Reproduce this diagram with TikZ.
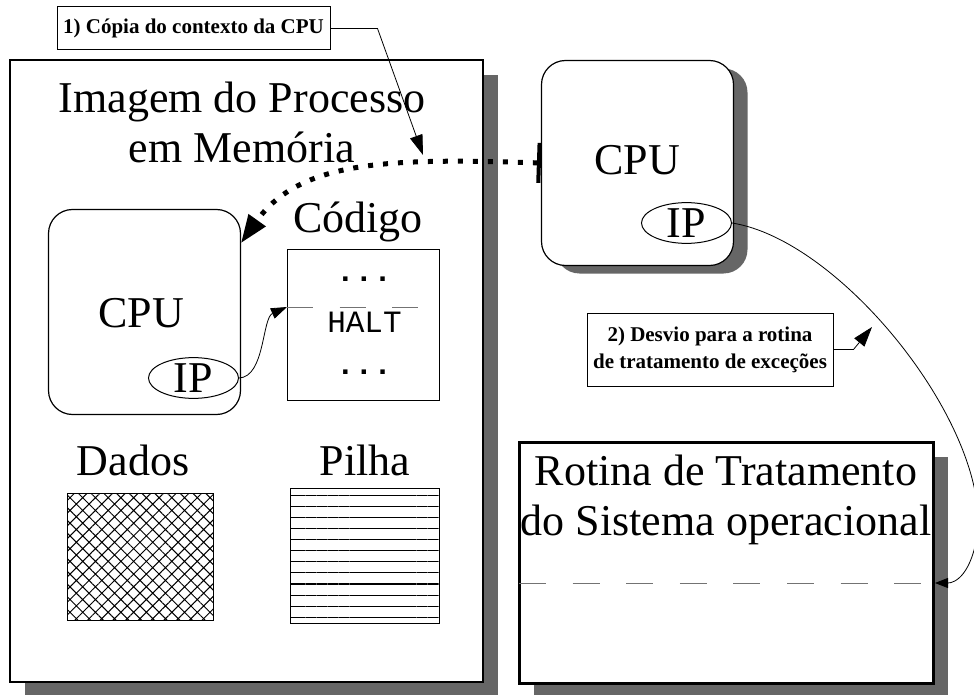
\documentclass[tikz,border=0pt]{standalone}
\usepackage{fontspec}
\setmainfont{Liberation Serif}
\setmonofont{Liberation Mono}
\usetikzlibrary{arrows.meta,shadows,patterns.meta,shapes.geometric}
\newcommand\bigtxt{\fontsize{44}{50}\selectfont}
\newcommand\notetxt{\fontsize{21}{27}\selectfont\bfseries}
\newcommand\codetxt{\fontsize{31}{36}\selectfont\ttfamily}

\begin{document}
\begin{tikzpicture}
		[x=1pt,y=-1pt,
		box/.style={shape=rectangle,draw,fill=white,line width=1.2pt,inner sep=0pt},
		shade box/.style={box,drop shadow={shadow xshift=15pt,shadow yshift=-15pt,fill=black!60,opacity=1}},
		cpu box/.style={box,rounded corners=24pt,minimum width=192pt,minimum height=205pt},
		ip node/.style={shape=ellipse,draw,fill=white,line width=1pt,minimum width=90pt,minimum height=40pt,inner sep=0pt,font=\bigtxt},
		big text/.style={font=\bigtxt,align=center,inner sep=0pt},
		note/.style={box,line width=1pt,font=\notetxt,align=center},
		pointer/.style={line width=.8pt,-{Triangle[length=20pt,width=13pt]}},
		cut line/.style={draw=black!55,line width=1pt,dash pattern=on 26pt off 26.5pt}
		]
		\useasboundingbox (0,0) rectangle (974,695);
		
		\node [shade box,minimum width=473pt,minimum height=622pt] (mem) at (246.5,371) {};
		\node [big text,anchor=base] (memtitle) at (242,163) {Imagem do Processo\\em Memória};
		
		\node [cpu box,drop shadow={shadow xshift=14pt,shadow yshift=-8pt,fill=black!60,opacity=1}] (cpuR) at (637.5,163) {};
		\node [big text,anchor=base] (cpuRtxt) at (637,175) {CPU};
		\node [ip node] (ipR) at (686.5,223) {IP};
		
		\node [cpu box] (cpuL) at (144.5,312) {};
		\node [big text,anchor=base] (cpuLtxt) at (141,327) {CPU};
		\node [ip node] (ipL) at (193.5,378) {IP};
		
		\node [big text,anchor=base] (codetitle) at (358,233) {Código};
		\node [box,line width=1pt,minimum width=152pt,minimum height=151pt] (code) at (363,324.5) {};
		\node [font=\codetxt\bfseries,anchor=base] (dotsA) at (364,281) {...};
		\node [font=\codetxt,anchor=base] (halt) at (364.5,332) {HALT};
		\node [font=\codetxt\bfseries,anchor=base] (dotsB) at (364,374) {...};
		\coordinate (h1) at (287,307);
		\coordinate (h2) at (439,307);
		
		\node [big text,anchor=base] (datatitle) at (133,475) {Dados};
		\node [box,line width=1pt,minimum width=146pt,minimum height=127pt,
		pattern={Hatch[angle=45,distance=9pt,line width=1pt]}] (data) at (140,556.5) {};
		\node [big text,anchor=base] (stacktitle) at (365,475) {Pilha};
		\node [box,line width=1pt,minimum width=149pt,minimum height=135pt,
		pattern={Lines[angle=0,distance=11.1pt,line width=1.1pt]}] (stack) at (364.5,555.5) {};
		
		\node [shade box,line width=3pt,minimum width=414pt,minimum height=241pt] (rout) at (726,562.5) {};
		\node [big text,anchor=base] (routtitle) at (726,535) {Rotina de Tratamento\\do Sistema operacional};
		\coordinate (r1) at (519,583);
		\coordinate (r2) at (922,583);
		\coordinate (rin) at (935,583);
		
		\node [note,minimum width=273pt,minimum height=43pt] (note1) at (193.5,28.5) {1) Cópia do contexto da CPU};
		\node [note,minimum width=246pt,minimum height=73pt] (note2) at (710,349.5) {2) Desvio para a rotina\\de tratamento de exceções};
		\coordinate (tip1) at (423,155);
		\coordinate (tip2) at (872,327);
		\coordinate (cpuin) at (241,243);
		
		\path [cut line] (h1) -- (h2);
		\path [cut line,dash pattern=on 27pt off 26.6pt] (r1) -- (r2);
		
		\draw [line width=5pt,dash pattern=on 5pt off 10pt,
		{Bar[width=40pt,line width=4pt]}-{Triangle[length=28pt,width=20pt]}]
		(cpuR.west) .. controls (390,158) and (300,160) .. (cpuin);
		\draw [pointer] (note1.east) -- ++(47,0) -- (tip1);
		\draw [pointer] (note2.east) -- ++(20,0) -- (tip2);
		\draw [line width=.8pt,-{Triangle[length=16pt,width=11pt]}]
		(ipL.east) .. controls (265,377) and (262,318) .. (h1);
		\draw [line width=.8pt,-{Triangle[length=13pt,width=10pt]}]
		(ipR.east) .. controls (840,240) and (985,420) .. (978,530)
		.. controls (972,575) and (955,583) .. (rin);
		
\end{tikzpicture}
\end{document}
